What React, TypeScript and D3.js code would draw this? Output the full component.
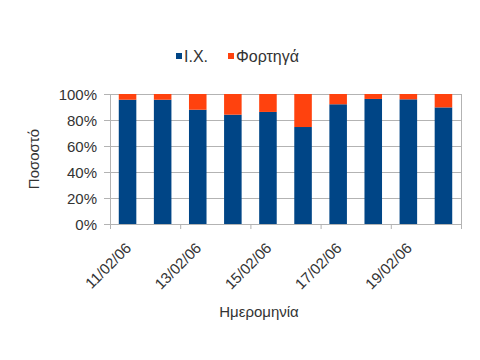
import React, { useEffect, useRef } from 'react';
import * as d3 from 'd3';

// dates on the x axis
const dates = ['11/02/06', '12/02/06', '13/02/06', '14/02/06', '15/02/06', '16/02/06', '17/02/06', '18/02/06', '19/02/06', '20/02/06'];
// share of passenger cars (I.X.) and trucks (Φορτηγά), percent
const cars = [95.6, 95.6, 87.9, 84.1, 86.2, 74.6, 92.1, 96.2, 95.9, 89.7];
const trucks = [4.4, 4.4, 12.1, 15.9, 13.8, 25.4, 7.9, 3.8, 4.1, 10.3];
const seriesNames = ['I.X.', 'Φορτηγά'];
const yTicks = [0, 20, 40, 60, 80, 100];

const colors = ['#004586', '#ff420e'];
const FONT = '"Liberation Sans", Arial, sans-serif';

const App: React.FC = () => {
  const ref = useRef<SVGSVGElement>(null);

  useEffect(() => {
    if (!ref.current) return;
    const svg = d3.select(ref.current);
    svg.selectAll('*').remove();

    const left = 110, right = 461, top = 94, bottom = 224;

    const x = d3.scaleBand<string>().domain(dates).range([left, right]).paddingInner(0.5).paddingOuter(0.25);
    const y = d3.scaleLinear().domain([0, 100]).range([bottom, top]);

    const rows = dates.map((d, i) => ({ date: d, cars: cars[i], trucks: trucks[i] }));
    const stack = d3.stack<any>().keys(['cars', 'trucks']).offset(d3.stackOffsetExpand);
    const layers = stack(rows);

    // gridlines
    svg.append('g')
      .selectAll('line')
      .data(yTicks)
      .join('line')
      .attr('x1', left - 6)
      .attr('x2', right)
      .attr('y1', (d) => y(d) + 0.5)
      .attr('y2', (d) => y(d) + 0.5)
      .attr('stroke', '#b3b3b3');

    // axis lines
    svg.append('line')
      .attr('x1', left + 0.5).attr('x2', left + 0.5)
      .attr('y1', top).attr('y2', bottom)
      .attr('stroke', '#b3b3b3');
    svg.append('line')
      .attr('x1', right + 0.5).attr('x2', right + 0.5)
      .attr('y1', top).attr('y2', bottom)
      .attr('stroke', '#b3b3b3');

    // bars
    layers.forEach((layer, k) => {
      svg.append('g')
        .selectAll('rect')
        .data(layer)
        .join('rect')
        .attr('x', (d: any) => x(d.data.date) as number)
        .attr('width', x.bandwidth())
        .attr('y', (d) => y(d[1] * 100))
        .attr('height', (d) => y(d[0] * 100) - y(d[1] * 100))
        .attr('fill', colors[k]);
    });

    // x ticks every two categories
    const step = x.step();
    const xTickPos = d3.range(0, dates.length + 1, 2).map((i) => left + i * step);
    svg.append('g')
      .selectAll('line')
      .data(xTickPos)
      .join('line')
      .attr('x1', (d) => d + 0.5)
      .attr('x2', (d) => d + 0.5)
      .attr('y1', bottom)
      .attr('y2', bottom + 5)
      .attr('stroke', '#b3b3b3');

    // y tick labels
    svg.append('g')
      .selectAll('text')
      .data(yTicks)
      .join('text')
      .attr('x', left - 13)
      .attr('y', (d) => y(d) + 5.5)
      .attr('text-anchor', 'end')
      .attr('font-family', FONT)
      .attr('font-size', 15)
      .attr('fill', '#333')
      .text((d) => d + '%');

    // x tick labels
    svg.append('g')
      .selectAll('text')
      .data(dates.filter((_, i) => i % 2 === 0))
      .join('text')
      .attr('transform', (d) => `translate(${(x(d) as number) + x.bandwidth() / 2 + 4.5},${bottom + 25}) rotate(-45)`)
      .attr('text-anchor', 'end')
      .attr('font-family', FONT)
      .attr('font-size', 15)
      .attr('fill', '#333')
      .text((d) => d);

    // axis titles
    svg.append('text')
      .attr('x', 259)
      .attr('y', 317)
      .attr('text-anchor', 'middle')
      .attr('font-family', FONT)
      .attr('font-size', 15)
      .attr('fill', '#333')
      .text('Ημερομηνία');
    svg.append('text')
      .attr('transform', `translate(39,${(top + bottom) / 2}) rotate(-90)`)
      .attr('text-anchor', 'middle')
      .attr('font-family', FONT)
      .attr('font-size', 15)
      .attr('fill', '#333')
      .text('Ποσοστό');

    // legend
    const legendX = [176, 228];
    const lg = svg.append('g');
    seriesNames.forEach((name, i) => {
      lg.append('rect')
        .attr('x', legendX[i])
        .attr('y', 53)
        .attr('width', 6)
        .attr('height', 6)
        .attr('fill', colors[i]);
      lg.append('text')
        .attr('x', legendX[i] + 8)
        .attr('y', 61.5)
        .attr('font-family', FONT)
        .attr('font-size', 16)
        .attr('fill', '#333')
        .text(name);
    });
  }, []);

  return (
    <svg
      ref={ref}
      width={480}
      height={360}
      style={{ position: 'absolute', left: 0, top: 0, background: '#fff' }}
    ></svg>
  );
};

export default App;
